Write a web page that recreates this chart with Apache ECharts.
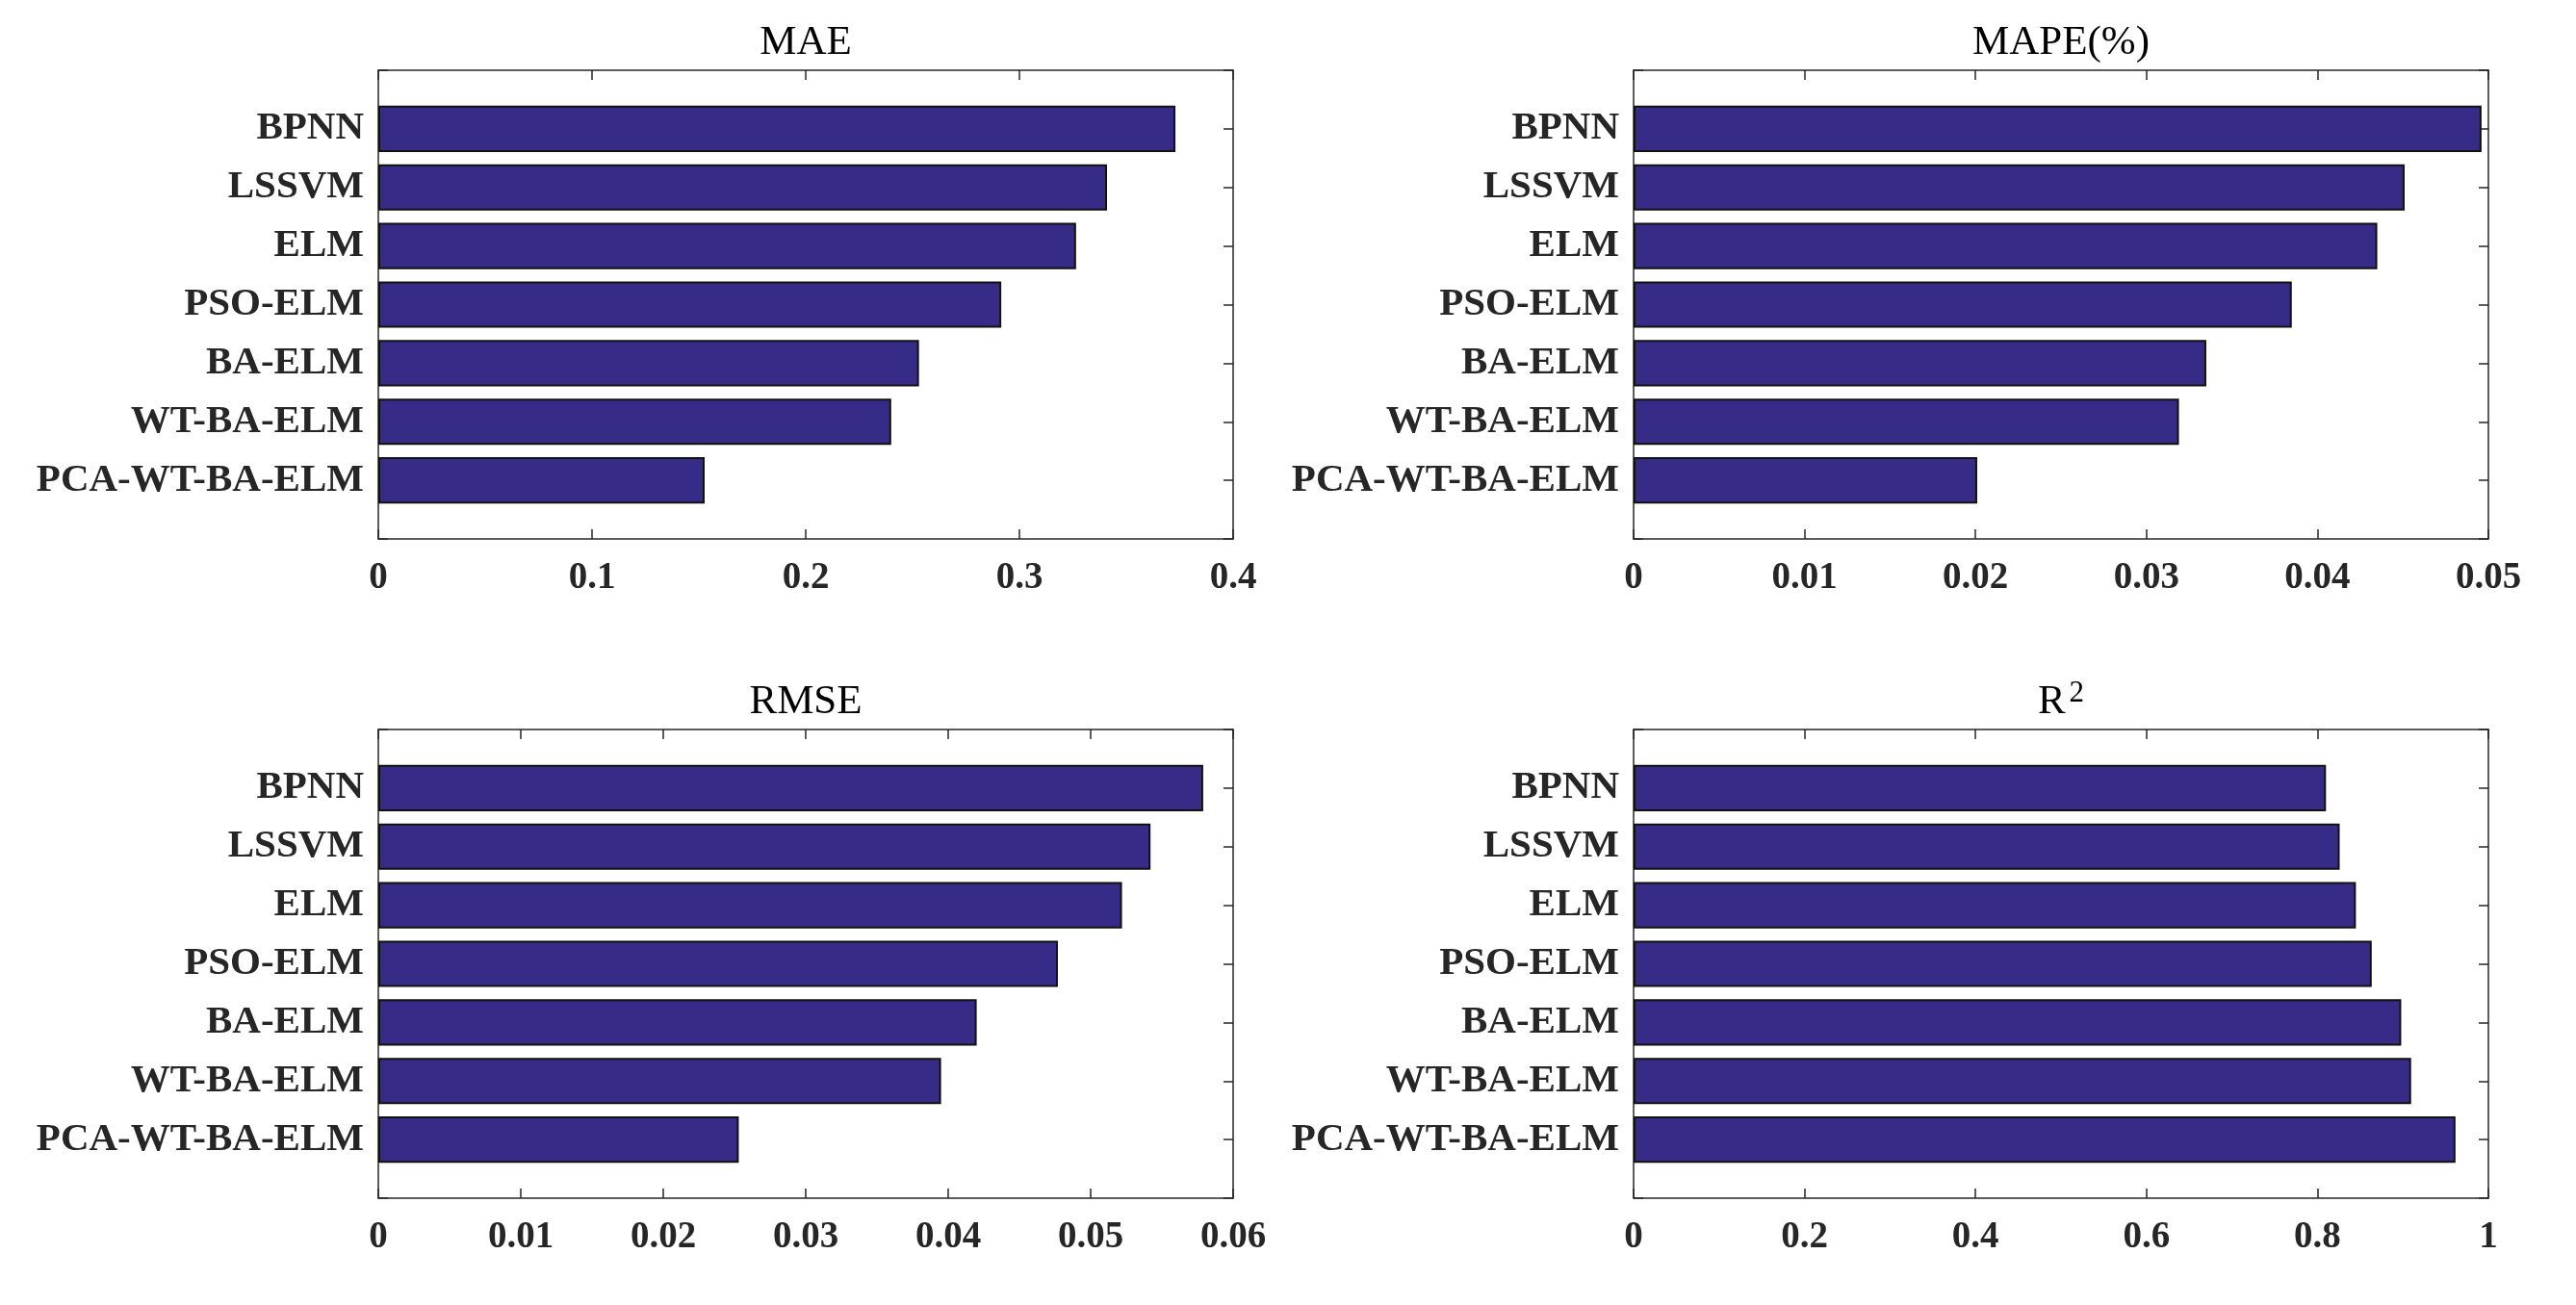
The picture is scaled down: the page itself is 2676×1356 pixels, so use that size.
<!DOCTYPE html>
<html>
<head>
<meta charset="utf-8">
<script src="https://cdn.jsdelivr.net/npm/echarts@6/dist/echarts.min.js"></script>
<style>
html,body{margin:0;padding:0;background:#fff;}
#chart{width:2676px;height:1356px;}
</style>
</head>
<body>
<div id="chart"></div>
<script>
// Categories, top to bottom as in the picture
const categories = ['BPNN', 'LSSVM', 'ELM', 'PSO-ELM', 'BA-ELM', 'WT-BA-ELM', 'PCA-WT-BA-ELM'];

// Series values (same order as categories)
const maeValues  = [0.373, 0.341, 0.3265, 0.2915, 0.253, 0.240, 0.1527];
const mapeValues = [0.0496, 0.0451, 0.0435, 0.0385, 0.0335, 0.0319, 0.0201];
const rmseValues = [0.0579, 0.0542, 0.0522, 0.0477, 0.0420, 0.0395, 0.0253];
const r2Values   = [0.810, 0.826, 0.845, 0.8635, 0.898, 0.9096, 0.9615];

// Panel titles
const titles = ['MAE', 'MAPE(%)', 'RMSE', 'R2'];

// Axis ranges (tick labels follow from these)
const axisMax      = [0.4, 0.05, 0.06, 1];
const axisInterval = [0.1, 0.01, 0.01, 0.2];

const panelValues = [maeValues, mapeValues, rmseValues, r2Values];

// Layout (pixels)
const panels = [
  {left: 393,  top: 73},
  {left: 1697, top: 73},
  {left: 393,  top: 758},
  {left: 1697, top: 758}
];
const PW = 888, PH = 487;

const FONT = '"Liberation Serif", "Times New Roman", serif';
const AXIS_COLOR = '#262626';
const BAR_COLOR = '#362b87';

// Category axis from bottom to top with empty padding slots at both ends
const catAxisData = [''].concat(categories.slice().reverse(), ['']);

const grid = [], xAxis = [], yAxis = [], series = [], title = [];

panels.forEach((p, i) => {
  grid.push({left: p.left, top: p.top, width: PW, height: PH, containLabel: false});
  const lineStyle = {color: AXIS_COLOR, width: 1.5};
  // bottom x axis with labels
  xAxis.push({
    type: 'value', gridIndex: i, position: 'bottom',
    min: 0, max: axisMax[i], interval: axisInterval[i],
    axisLine: {show: true, onZero: false, lineStyle},
    axisTick: {show: true, inside: true, length: 10, lineStyle},
    axisLabel: {show: true, margin: 21, fontFamily: FONT, fontWeight: 'bold', fontSize: 39, color: AXIS_COLOR},
    splitLine: {show: false}
  });
  // top x axis (ticks only)
  xAxis.push({
    type: 'value', gridIndex: i, position: 'top',
    min: 0, max: axisMax[i], interval: axisInterval[i],
    axisLine: {show: true, onZero: false, lineStyle},
    axisTick: {show: true, inside: true, length: 10, lineStyle},
    axisLabel: {show: false},
    splitLine: {show: false}
  });
  // left y axis with category labels
  yAxis.push({
    type: 'category', gridIndex: i, position: 'left',
    data: catAxisData, boundaryGap: false,
    axisLine: {show: true, onZero: false, lineStyle},
    axisTick: {show: true, inside: true, length: 10, lineStyle},
    axisLabel: {show: true, interval: 0, margin: 15, fontFamily: FONT, fontWeight: 'bold', fontSize: 41, color: AXIS_COLOR},
    splitLine: {show: false}
  });
  // right y axis (ticks only)
  yAxis.push({
    type: 'category', gridIndex: i, position: 'right',
    data: catAxisData, boundaryGap: false,
    axisLine: {show: true, onZero: false, lineStyle},
    axisTick: {show: true, inside: true, length: 10, lineStyle},
    axisLabel: {show: false},
    splitLine: {show: false}
  });
  series.push({
    type: 'bar',
    xAxisIndex: i * 2, yAxisIndex: i * 2,
    barWidth: '79%',
    data: panelValues[i].map((v, k) => [v, categories[k]]),
    itemStyle: {color: BAR_COLOR, borderColor: '#111', borderWidth: 2},
    silent: true,
    animation: false
  });
  const isR2 = titles[i] === 'R2';
  title.push({
    text: isR2 ? '{b|R}{s|2}' : '{b|' + titles[i] + '}',
    left: p.left + PW / 2,
    top: p.top - 53,
    textAlign: 'center',
    padding: 0,
    textStyle: {
      rich: {
        b: {fontFamily: FONT, fontSize: 43, fontWeight: 'normal', color: '#000', lineHeight: 50},
        s: {fontFamily: FONT, fontSize: 31, fontWeight: 'normal', color: '#000', lineHeight: 24, verticalAlign: 'top', padding: [0, 0, 0, 4]}
      }
    }
  });
});

const chart = echarts.init(document.getElementById('chart'), null, {renderer: 'canvas'});
chart.setOption({
  backgroundColor: '#fff',
  animation: false,
  title, grid, xAxis, yAxis, series
});
</script>
</body>
</html>
